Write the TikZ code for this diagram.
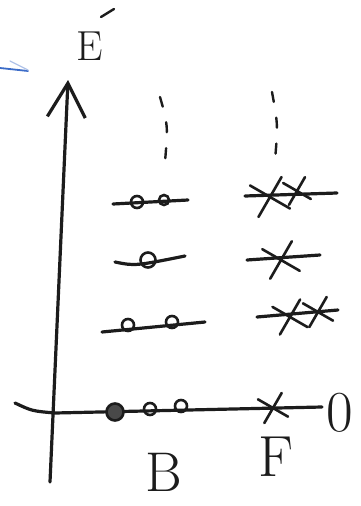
\documentclass[tikz,border=0pt]{standalone}
\usepackage{xcolor}
\usepackage{tikz}
\usetikzlibrary{arrows.meta,shapes.misc}
\definecolor{ink}{HTML}{1C1C1C}
\definecolor{pen}{HTML}{3C6CC8}

\begin{document}
\begin{tikzpicture}[x=1pt,y=-1pt,line width=3.2pt,line cap=round,draw=ink,
  every node/.style={text=ink,inner sep=0pt},
  lvl/.style={draw=ink,line width=3.2pt},
  boson/.style={circle,draw=ink,line width=2.6pt,minimum width=12pt,minimum height=10pt},
  fermion/.style={cross out,draw=ink,line width=2.6pt,minimum size=#1,rotate=15},
  fermion/.default=20pt,
  tower/.style={draw=ink,line width=2.4pt,dash pattern=on 10pt off 16pt},
  label/.style={font=\fontsize{#1}{#1}\selectfont}]
\useasboundingbox (0,0) rectangle (360,506);
\fill[white] (0,0) rectangle (360,506);
% axes
\coordinate (ylow) at (50,482);
\coordinate (ytop) at (68,80);
\coordinate (xleft) at (15,403);
\coordinate (xbend) at (55,413);
\coordinate (xright) at (322,407);
\draw[-{Straight Barb[length=34pt,width=38pt]}] (ylow) -- (ytop);
\draw (xleft) .. controls (32,411) .. (xbend) -- (xright);
\node[label=42] (elab) at (90,46) {E};
\node[label=58] (zero) at (340,413) {0};
\draw[line width=2.4pt] (101,17) -- (114,9);
\draw[pen,line width=1.8pt] (0,68) -- (28,71);
\draw[pen!40,line width=1.2pt] (10,61) -- (28,70);
% B column
\node[boson,fill=ink!80,minimum width=17pt,minimum height=13pt] (b01) at (115,412) {};
\node[boson] (b02) at (150,409) {};
\node[boson] (b03) at (181,406) {};
\coordinate (b1l) at (102,332); \coordinate (b1r) at (205,322);
\draw[lvl] (b1l) -- (b1r);
\node[boson] (b11) at (128,325) {};
\node[boson] (b12) at (172,322) {};
\coordinate (b2l) at (115,262); \coordinate (b2r) at (185,256);
\draw[lvl] (b2l) .. controls (135,266) .. (b2r);
\node[boson,minimum width=15pt,minimum height=12pt] (b21) at (148,260) {};
\coordinate (b3l) at (113,204); \coordinate (b3r) at (188,200);
\draw[lvl] (b3l) -- (b3r);
\node[boson] (b31) at (137,202) {};
\node[boson,minimum width=8pt,minimum height=10pt] (b32) at (164,200) {};
\coordinate (btop) at (160,97); \coordinate (bbot) at (165,162);
\draw[tower] (btop) .. controls (168,125) .. (bbot);
\node[label=56] (blab) at (164,472) {B};
% F column
\node[fermion=22pt] (f01) at (273,408) {};
\coordinate (f1l) at (257,317); \coordinate (f1r) at (338,310);
\draw[lvl] (f1l) -- (f1r);
\node[fermion=26pt] (f11) at (290,317) {};
\node[fermion=22pt] (f12) at (318,312) {};
\coordinate (f2l) at (247,260); \coordinate (f2r) at (320,255);
\draw[lvl] (f2l) -- (f2r);
\node[fermion=28pt] (f21) at (281,260) {};
\coordinate (f3l) at (245,196); \coordinate (f3r) at (337,193);
\draw[lvl] (f3l) -- (f3r);
\node[fermion=30pt] (f31) at (270,197) {};
\node[fermion=20pt] (f32) at (297,191) {};
\coordinate (ftop) at (272,92); \coordinate (fbot) at (275,160);
\draw[tower] (ftop) .. controls (278,125) .. (fbot);
\node[label=58] (flab) at (276,457) {F};
\end{tikzpicture}
\end{document}
